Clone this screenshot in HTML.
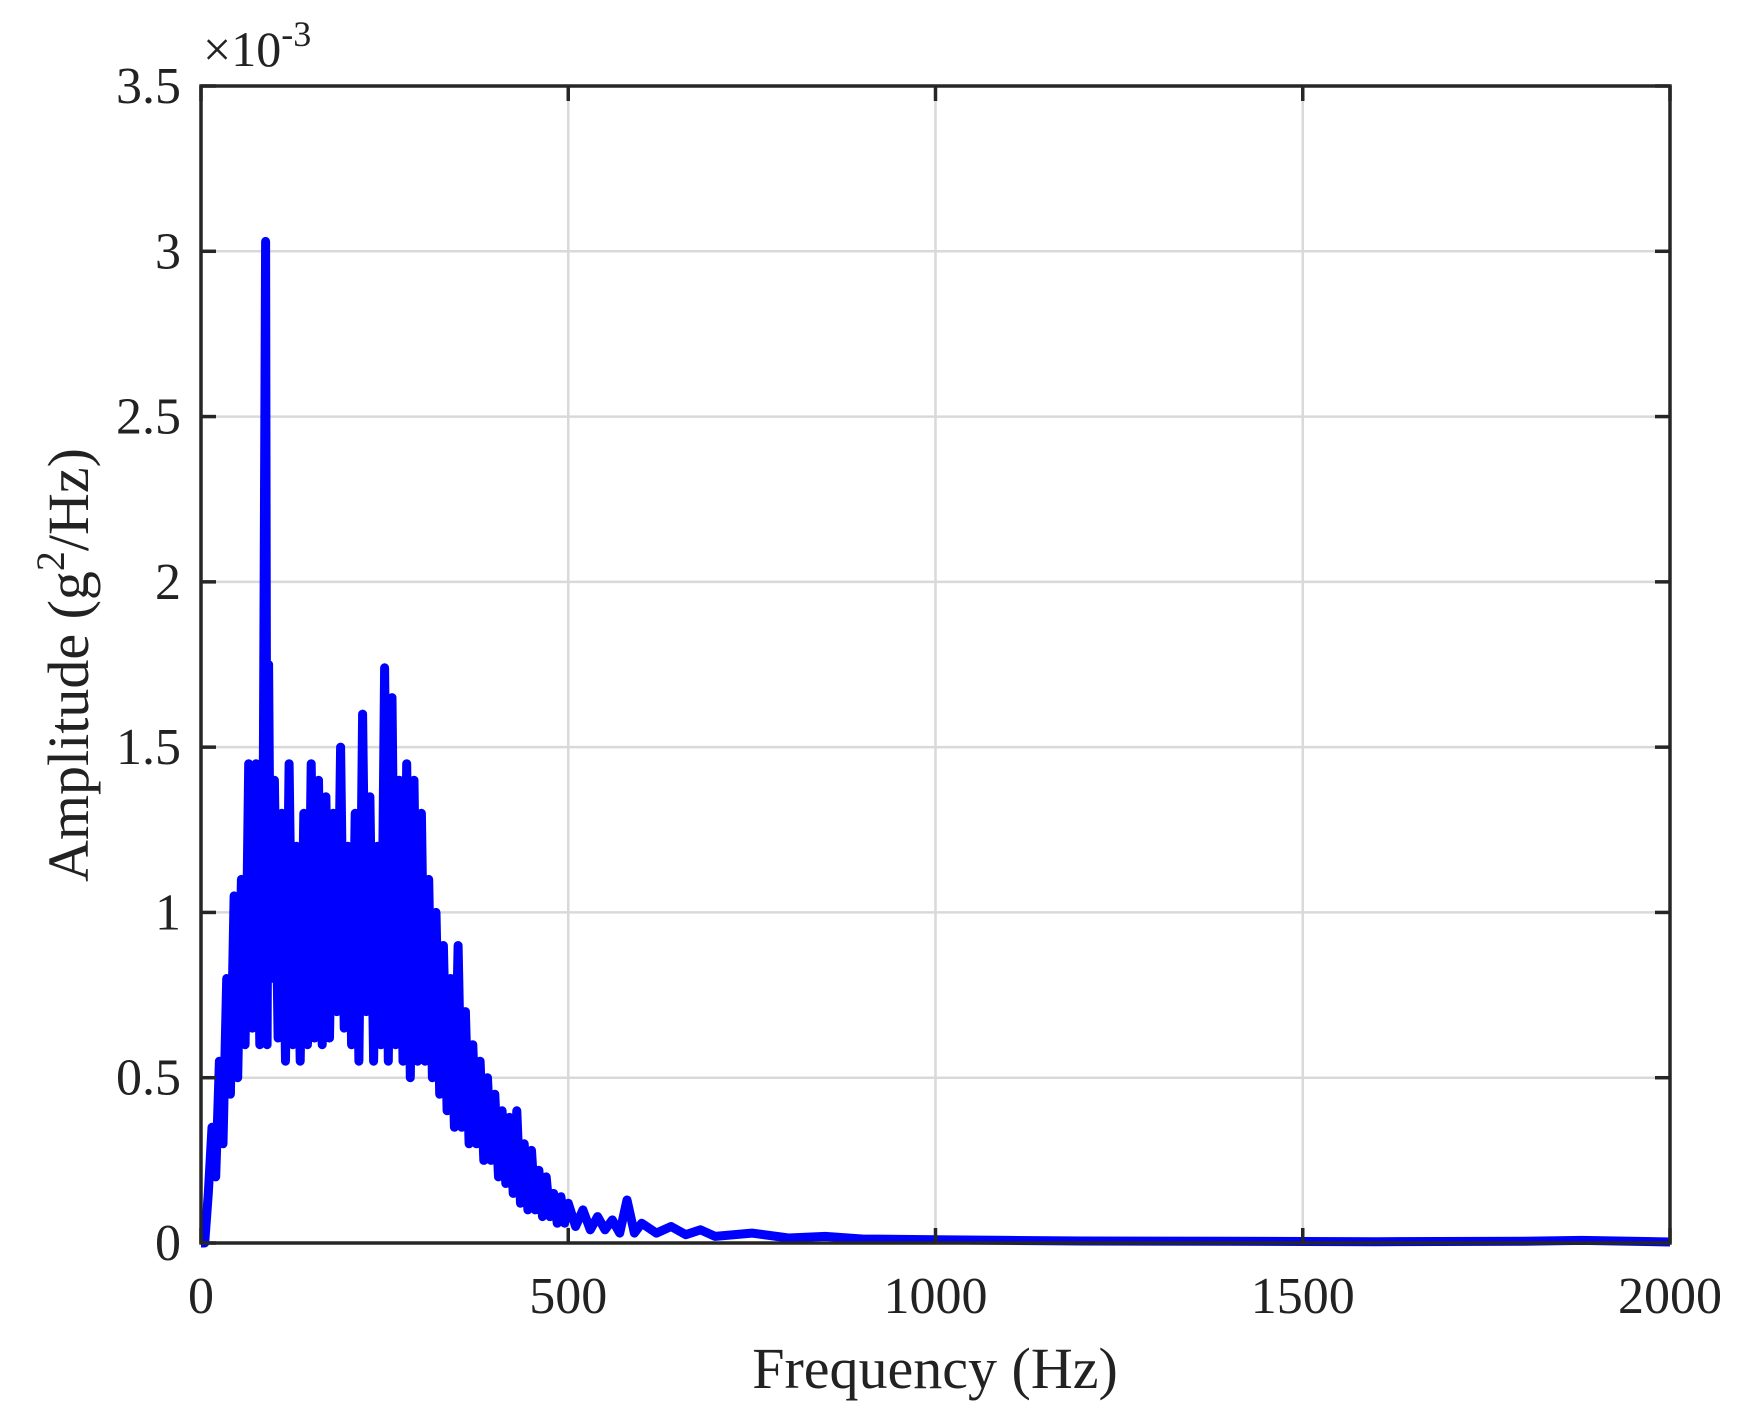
<!DOCTYPE html>
<html><head><meta charset="utf-8"><style>
html,body{margin:0;padding:0;background:#fff;}
svg{display:block;font-family:"Liberation Serif",serif;}
</style></head><body>
<svg id="chart" width="1739" height="1419" viewBox="0 0 1739 1419" xmlns="http://www.w3.org/2000/svg">
<rect width="1739" height="1419" fill="#fff"/>
<g id="grid"></g>
<g id="series"></g>
<g id="axes"></g>
<text x="935" y="1388" font-size="58" text-anchor="middle" fill="#222">Frequency (Hz)</text>
<text transform="translate(88,665) rotate(-90)" font-size="58" text-anchor="middle" fill="#222">Amplitude (g<tspan font-size="40" dy="-24">2</tspan><tspan dy="24">/Hz)</tspan></text>
<text x="203" y="66" font-size="50" fill="#222">×10<tspan font-size="36" dy="-20">-3</tspan></text>
</svg>
<script>
const freqs=[0,5,10,15,20,25,30,35,40,45,50,55,60,65,70,75,80,85,88,90,92,95,100,105,110,115,120,125,130,135,140,145,150,155,160,165,170,175,180,185,190,195,200,205,210,215,220,225,230,235,240,245,250,255,260,265,270,275,280,285,290,295,300,305,310,315,320,325,330,335,340,345,350,355,360,365,370,375,380,385,390,395,400,405,410,415,420,425,430,435,440,445,450,455,460,465,470,475,480,485,490,495,500,510,520,530,540,550,560,570,580,590,600,620,640,660,680,700,750,800,850,900,1000,1100,1200,1400,1600,1800,1880,2000];
const amps=[0,0,0.15,0.35,0.2,0.55,0.3,0.8,0.45,1.05,0.5,1.1,0.6,1.45,0.65,1.45,0.6,1.48,3.03,0.6,1.75,0.8,1.4,0.62,1.3,0.55,1.45,0.6,1.2,0.55,1.3,0.6,1.45,0.62,1.4,0.6,1.35,0.62,1.3,0.7,1.5,0.65,1.2,0.6,1.3,0.55,1.6,0.7,1.35,0.55,1.2,0.6,1.74,0.55,1.65,0.6,1.4,0.55,1.45,0.5,1.4,0.55,1.3,0.55,1.1,0.5,1.0,0.45,0.9,0.4,0.8,0.35,0.9,0.35,0.7,0.3,0.6,0.3,0.55,0.25,0.5,0.25,0.45,0.2,0.4,0.18,0.38,0.15,0.4,0.12,0.3,0.1,0.28,0.1,0.22,0.08,0.2,0.08,0.15,0.06,0.14,0.06,0.12,0.05,0.1,0.04,0.08,0.04,0.07,0.03,0.13,0.03,0.06,0.03,0.05,0.025,0.04,0.02,0.03,0.015,0.02,0.012,0.01,0.008,0.006,0.005,0.004,0.005,0.008,0.003];
const xTicks=[0,500,1000,1500,2000];
const xTickLabels=["0","500","1000","1500","2000"];
const yTicks=[0,0.5,1,1.5,2,2.5,3,3.5];
const yTickLabels=["0","0.5","1","1.5","2","2.5","3","3.5"];
const L=201,R=1670,T=86,B=1243;
const xs=v=>L+(v-0)/(2000)*(R-L);
const ys=v=>B-(v/3.5)*(B-T);
const NS="http://www.w3.org/2000/svg";
function mk(tag,attrs,parent){const e=document.createElementNS(NS,tag);for(const k in attrs)e.setAttribute(k,attrs[k]);parent.appendChild(e);return e;}
const grid=document.getElementById('grid'),axes=document.getElementById('axes'),series=document.getElementById('series');
xTicks.forEach((t,i)=>{
  const g=mk('line',{x1:xs(t),x2:xs(t),y1:T,y2:B,stroke:'#d9d9d9','stroke-width':2.5},grid);
  
  
  const tk=mk('line',{x1:xs(t),x2:xs(t),y1:B,y2:B-15,stroke:'#262626','stroke-width':3.5},axes);
  
  
  const tk2=mk('line',{x1:xs(t),x2:xs(t),y1:T,y2:T+15,stroke:'#262626','stroke-width':3.5},axes);
  
  
  const tx=mk('text',{x:xs(t),y:B+70,'font-size':52,'text-anchor':'middle',fill:'#222'},axes);
  tx.textContent=xTickLabels[i];
  
  
});
yTicks.forEach((t,i)=>{
  const g=mk('line',{x1:L,x2:R,y1:ys(t),y2:ys(t),stroke:'#d9d9d9','stroke-width':2.5},grid);
  
  
  const tk=mk('line',{x1:L,x2:L+15,y1:ys(t),y2:ys(t),stroke:'#262626','stroke-width':3.5},axes);
  
  
  const tk2=mk('line',{x1:R,x2:R-15,y1:ys(t),y2:ys(t),stroke:'#262626','stroke-width':3.5},axes);
  
  
  const tx=mk('text',{x:L-20,y:ys(t)+17,'font-size':52,'text-anchor':'end',fill:'#222'},axes);
  tx.textContent=yTickLabels[i];
  
  
});
const box=mk('rect',{x:L,y:T,width:R-L,height:B-T,fill:'none',stroke:'#262626','stroke-width':3.5},axes);


const pts=freqs.map((f,i)=>xs(f).toFixed(1)+','+ys(amps[i]).toFixed(1)).join(' ');
const pl=mk('polyline',{points:pts,fill:'none',stroke:'#0000ff','stroke-width':9,'stroke-linejoin':'round'},series);


</script>
</body></html>
